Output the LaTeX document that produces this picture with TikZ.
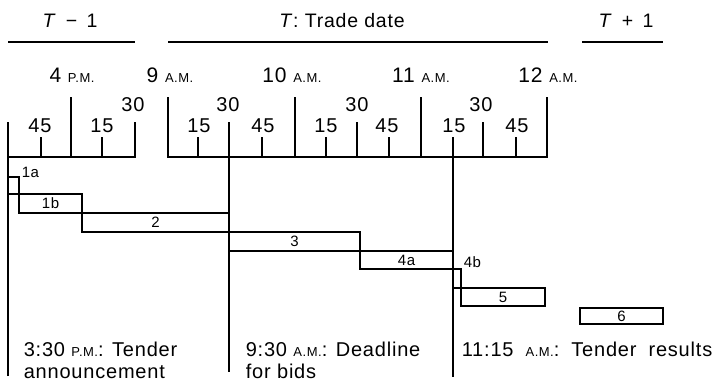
\documentclass[tikz,border=0pt]{standalone}
\usepackage{fontspec}
\setmainfont{Liberation Sans}[LetterSpace=4]
\newcommand\smc[1]{{\fontsize{13}{14}\selectfont #1}}
\newcommand\wsp{\hspace{0.6em}}
\newcommand\taskbar[6]{%
  \draw[barline] (#1,#2) rectangle (#3,#4);
  \node[barlab] (#6) at ({(#1+#3)/2},{(#2+#4)/2}) {#5};}
\begin{document}
\begin{tikzpicture}[x=1pt,y=-1pt,line width=1.6pt,
  big/.style={inner sep=0pt,font=\fontsize{21}{24}\selectfont},
  hourlab/.style={big,anchor=base},
  titlelab/.style={inner sep=0pt,anchor=base,font=\fontsize{19.5}{22}\selectfont},
  minlab/.style={inner sep=0pt,anchor=base,font=\fontsize{20}{22}\selectfont},
  barlab/.style={inner sep=0pt,font=\fontsize{15}{17}\selectfont},
  barline/.style={line width=1.4pt},
  uline/.style={line width=2.2pt},
  note/.style={inner sep=0pt,anchor=base west,font=\fontsize{20}{23}\selectfont}]
\useasboundingbox (0,0) rectangle (718,384);

% titles
\node[titlelab] (t1) at (70,27) {\textit{T} \,−\, 1};
\node[titlelab] (t2) at (342,27) {\textit{T}: Trade date};
\node[titlelab] (t3) at (626,27) {\textit{T} \,+\, 1};
\draw[uline] (8,42) -- (135,42);
\draw[uline] (168,42) -- (548,42);
\draw[uline] (582,42) -- (663,42);

% hour labels
\node[hourlab] (h4) at (72,82) {4 \smc{P.M.}};
\node[hourlab] (h9) at (170,82) {9 \smc{A.M.}};
\node[hourlab] (h10) at (292,82) {10 \smc{A.M.}};
\node[hourlab] (h11) at (421,82) {11 \smc{A.M.}};
\node[hourlab] (h12) at (548,82) {12 \smc{A.M.}};

% half-hour labels
\node[minlab] (m430) at (133,111) {30};
\node[minlab] (m930) at (228,111) {30};
\node[minlab] (m1030) at (357,111) {30};
\node[minlab] (m1130) at (481,111) {30};
% quarter labels
\node[minlab] (m345) at (40,132) {45};
\node[minlab] (m415) at (102,132) {15};
\node[minlab] (m915) at (199,132) {15};
\node[minlab] (m945) at (263,132) {45};
\node[minlab] (m1015) at (326,132) {15};
\node[minlab] (m1045) at (387,132) {45};
\node[minlab] (m1115) at (454,132) {15};
\node[minlab] (m1145) at (517,132) {45};

% left ruler
\draw (8,376) -- (8,122);
\draw (8,157) -- (135,157) -- (135,122);
\draw (41,157) -- (41,137);
\draw (71,157) -- (71,97);
\draw (102,157) -- (102,137);
% right ruler
\draw (168,97) -- (168,157) -- (547,157) -- (547,97);
\draw (198,157) -- (198,137);
\draw (229,122) -- (229,372);
\draw (262,157) -- (262,137);
\draw (295,157) -- (295,97);
\draw (326,157) -- (326,137);
\draw (357,157) -- (357,122);
\draw (389,157) -- (389,137);
\draw (421,157) -- (421,97);
\draw (453,137) -- (453,377);
\draw (483,157) -- (483,122);
\draw (516,157) -- (516,137);

% task bars
\taskbar{8}{177}{19}{194}{}{b1a}
\node[barlab,anchor=west] (l1a) at (21,172) {1a};
\taskbar{19}{194}{82}{213}{1b}{b1b}
\taskbar{82}{213}{229}{232}{2}{b2}
\taskbar{229}{232}{360}{251}{3}{b3}
\taskbar{360}{251}{453}{269}{4a}{b4a}
\taskbar{453}{269}{461}{288}{}{b4b}
\node[barlab,anchor=west] (l4b) at (463,262) {4b};
\taskbar{461}{288}{545}{306}{5}{b5}
\taskbar{580}{308}{663}{324}{6}{b6}

% notes
\node[note] (n1) at (23,356) {3:30 \smc{P.M.}: Tender};
\node[note] (n1b) at (23,378) {announcement};
\node[note] (n2) at (245,356) {9:30 \smc{A.M.}: Deadline};
\node[note] (n2b) at (245,378) {for bids};
\node[note] (n3) at (461,356) {11:15\wsp\smc{A.M.}:\wsp Tender\wsp results};
\end{tikzpicture}
\end{document}
